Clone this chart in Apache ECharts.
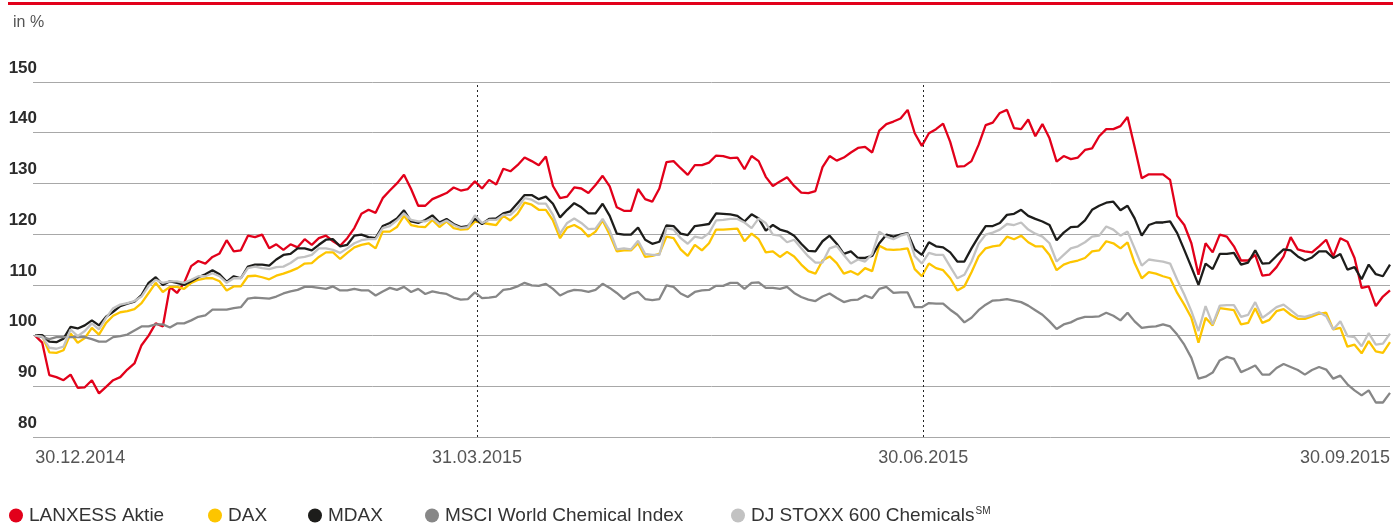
<!DOCTYPE html>
<html>
<head>
<meta charset="utf-8">
<script src="https://cdn.jsdelivr.net/npm/echarts@6/dist/echarts.min.js"></script>
<style>
  html, body { margin: 0; padding: 0; background: #fff; }
  #chart { width: 1393px; height: 525px; }
</style>
</head>
<body>
<div id="chart"></div>
<script>
// Werte in %, Startwert 30.12.2014 = 100, ein Wert je Handelstag
const lanxess = [
  100, 98.6, 92.2, 91.8, 91.2, 92.3, 89.7, 89.8, 91.2, 88.6, 89.9, 91.2, 91.8, 93.3, 94.5, 98.1, 100, 102.4, 101.8, 109.6, 108.4, 110.4, 113.7, 114.7, 114.2, 115.5, 116.2, 118.8, 116.6, 116.8, 119.7,
  119.4, 119.9, 117.2, 118, 116.9, 118, 117.4, 119, 117.9, 119.2, 119.7, 118.6, 117.7, 119.2, 121.2, 124, 124.8, 124.2, 127.1, 128.6, 130, 131.7, 128.9, 125.6, 125.6, 126.9, 127.5, 128.1, 129.2, 128.6, 128.9, 130.4,
  129, 130.7, 129.8, 132.9, 132.4, 133.6, 135.1, 134.4, 133.6, 135.3, 129.5, 127.1, 127.4, 129.2, 129, 128.1, 129.7, 131.5, 129.4, 125.3, 124.6, 124.6, 128.9, 126.9, 126.4, 129, 134.2, 134.4, 133, 131.7, 133.6, 133.6, 134.1, 135.5,
  135.4, 135, 135.1, 132.8, 135.4, 134.4, 131.3, 129.5, 130.4, 131.2, 129.5, 128.2, 128.1, 128.5, 133.2, 135.4, 134.5, 135.1, 136.1, 137, 137.2, 136.1, 140.4, 141.7, 142.2, 142.8, 144.5, 139.9, 137.4, 139.9, 140.7, 141.8,
  138.2, 133.3, 133.4, 134.4, 137.6, 141.5, 142, 143.9, 144.5, 140.9, 140.7, 142.6, 139.3, 141.7, 138.9, 134.3, 135.4, 134.8, 135.1, 136.6, 136.9, 139.3, 140.7, 140.7, 141.3, 143.1, 137.2, 131, 131.8, 131.8, 131.8,
  130.7, 123.6, 121.8, 118.2, 112, 118.2, 116.4, 119.9, 119.5, 117.6, 114.8, 114.8, 115.9, 111.8, 112, 113.5, 115.6, 119.4, 117, 116.6, 116.4, 117.6, 118.9, 115.6, 119.2, 118.5, 115.3, 109.4, 109.7, 105.8, 107.7, 108.9
]

const dax = [
  100, 99.9, 96.7, 96.6, 97.1, 100.4, 98.6, 99.5, 101.5, 100.2, 102.5, 103.9, 104.6, 104.8, 105.2, 106.4, 108.4, 110.4, 108.6, 109.6, 109.6, 109.2, 110.4, 111, 111.3, 111.3, 110.7, 108.9, 109.7, 109.7, 111.7,
  111.8, 111.5, 111.1, 111.8, 112.2, 112.7, 113.3, 114.2, 114.3, 115.5, 116.4, 116.4, 115.1, 116.3, 117.4, 117.9, 118.2, 117.2, 120.5, 120.5, 121.4, 123.6, 121.8, 121.5, 121.4, 122.8, 121.4, 122.5, 121.2, 120.9, 121, 122.5,
  122.2, 122, 121.8, 123.6, 122.7, 124, 126.2, 125.8, 124.8, 124.8, 122.7, 119.2, 121.3, 121.8, 121, 119.5, 120.5, 122.7, 119.9, 116.6, 116.8, 116.8, 118.2, 115.5, 115.7, 116.1, 119.5, 119.2, 117, 115.7, 117.9, 116.8, 118.2, 120.9,
  120.9, 121, 121.1, 118.6, 120.1, 119, 116.4, 116.6, 115.5, 116.5, 115.6, 114, 112.7, 112.2, 114.8, 115.6, 114.3, 112.2, 112.7, 112, 113.3, 112.7, 117.7, 117, 116.9, 117, 117.2, 113.1, 111.7, 114.2, 113.3, 112.9,
  111.3, 108.9, 109.7, 112.5, 115.6, 117.2, 117.6, 117.8, 119.5, 119, 119.7, 118.4, 117.6, 117.6, 115.9, 112.9, 114, 114.5, 114.8, 115.3, 116.6, 116.8, 118.6, 118.2, 117.2, 118.4, 114.3, 111.3, 112.5, 112.2, 111.7,
  111.3, 108.4, 106.1, 103.5, 98.6, 103.5, 102, 105.4, 105.2, 105, 102.2, 102.5, 105.4, 102.5, 103.1, 104.8, 105.2, 104.1, 103.3, 103.3, 103.8, 104.3, 104.5, 101.2, 101.5, 97.8, 98.2, 96.5, 98.9, 96.9, 96.6, 98.7
]

const mdax = [
  100.1, 100.1, 98.8, 98.7, 99.4, 101.7, 101.4, 102, 103, 102, 103.7, 104.7, 105.8, 106.3, 106.7, 108, 110.4, 111.5, 110, 110.7, 110.4, 110, 110.7, 111.5, 112.1, 112.9, 112.1, 110.6, 111.7, 111.3, 113.6,
  114, 114, 113.8, 115, 115.9, 116.1, 117.2, 117.2, 116.8, 117.9, 118.9, 119, 117.6, 117.9, 119.7, 119.9, 119.4, 119.2, 121.6, 122.2, 123.1, 124.7, 122.5, 122.2, 122.8, 123.7, 122.3, 123, 122, 121.4, 121.6, 123,
  122, 123, 123.1, 124.1, 124.5, 126.1, 127.7, 127.7, 126.9, 127.4, 126, 123.3, 124.8, 126.1, 125.3, 124.1, 124.1, 126, 123.6, 120.1, 119.9, 119.9, 121.3, 118.9, 118.1, 118.5, 121.7, 121.6, 120.1, 119.8, 121.6, 121.8, 122, 124.1,
  124, 123.9, 123.6, 122.5, 123.9, 123.1, 120.7, 121.8, 120.9, 120.5, 119.7, 118.1, 116.7, 116.6, 118.6, 119.7, 118.1, 116.1, 116.6, 115.3, 115.3, 115.7, 118.2, 119.9, 119.5, 119.9, 120.2, 117, 115.9, 118.4, 117.6, 117.4,
  116.4, 114.6, 114.6, 117.2, 119.5, 121.6, 121.6, 122.2, 123.8, 124, 124.8, 123.6, 123, 122.5, 121.8, 118.8, 120.3, 121.4, 121.5, 122.7, 124.8, 125.6, 126.2, 126.4, 124.7, 125.6, 123.1, 119.7, 121.8, 122.3, 122.3,
  122.5, 120.2, 116.9, 113.5, 110, 114.2, 113.1, 116.1, 116.1, 116.3, 114, 114.4, 116.8, 114.2, 114.3, 115.7, 117, 116.8, 115.6, 114.8, 115.4, 116.6, 116.6, 115.3, 116.1, 113, 113.5, 111.1, 114, 112.1, 111.7, 114
]

const msci = [
  100, 99.7, 99.3, 99.7, 99.7, 99.7, 99.7, 99.7, 99.3, 98.8, 98.8, 99.7, 99.9, 100.2, 101, 101.8, 101.8, 102.2, 102.2, 101.6, 102.4, 102.4, 103, 103.7, 104, 105.1, 105.1, 105.1, 105.4, 105.6, 107.3,
  107.5, 107.4, 107.3, 107.7, 108.3, 108.7, 109, 109.6, 109.6, 109.4, 109.2, 109.7, 108.9, 108.9, 109.2, 108.9, 108.9, 107.9, 108.7, 109.4, 109, 109.6, 108.6, 109.2, 108.2, 108.7, 108.4, 108.2, 107.5, 107.1, 107.2, 108.5,
  107.4, 107.5, 107.7, 109, 109.2, 109.7, 110.4, 109.9, 109.8, 110.2, 109.2, 107.9, 108.6, 109, 108.9, 108.6, 109, 110.2, 109.4, 108.4, 107.2, 108.2, 108.6, 107.2, 107, 107.2, 109.9, 109.6, 108.3, 107.6, 108.6, 108.9, 109, 109.8,
  109.8, 110.4, 110.4, 109.2, 110.4, 110.5, 109.4, 109.4, 109.2, 109.6, 108.4, 107.6, 107.1, 106.8, 107.7, 108.3, 107.4, 106.6, 107, 107.1, 107.9, 107.4, 109.2, 109.6, 108.4, 108.5, 108.5, 105.6, 105.6, 106.4, 106.3, 106.3,
  105.1, 104.1, 102.6, 103.5, 105, 106.1, 106.9, 107, 107.2, 106.9, 106.6, 105.9, 105, 104.1, 102.8, 101.3, 102.2, 102.6, 103.3, 103.7, 103.7, 103.8, 104.5, 103.9, 103, 104.5, 102.8, 101.5, 101.7, 101.8, 102.2,
  101.8, 100.2, 98.2, 95.6, 91.5, 91.9, 92.7, 95.1, 95.8, 95.4, 92.8, 93.4, 94.1, 92.3, 92.3, 93.6, 94.4, 93.8, 93.2, 92.3, 93.2, 93.8, 93.3, 91.5, 92.1, 90.4, 89.2, 88.2, 89.2, 86.8, 86.8, 88.7
]

const stoxx = [
  100, 99.8, 97.6, 97.4, 97.8, 101.2, 99.9, 100.9, 102.4, 101.2, 103.5, 105.4, 106.1, 106.4, 106.8, 107.7, 109.8, 111, 110.4, 110.7, 110.7, 110.4, 111, 111.7, 111.7, 112.3, 111.7, 110.4, 111.3, 111.3, 113.3,
  113.6, 113.3, 113.1, 113.5, 113.6, 114.3, 115.3, 115.5, 115.9, 117.2, 117.2, 116.9, 116.3, 117.2, 118.2, 118.8, 119, 119, 121.2, 121.6, 122.7, 124.1, 122.8, 122.5, 122.5, 123.1, 122, 122.7, 121.8, 121.2, 121.4, 123.7,
  122.2, 122.8, 122.8, 123.8, 123.8, 125.1, 127.1, 126.8, 126, 126, 123.8, 120.1, 122.2, 123.1, 122.2, 121, 121.1, 123, 120.7, 117, 117.2, 117, 118.7, 116.1, 115.9, 115.9, 121.2, 120.9, 119.2, 118.1, 119.5, 119.2, 120.2, 122.7,
  122.8, 123, 123, 122.3, 121.2, 123.1, 122.2, 119.9, 119.7, 118.4, 118.9, 117.2, 115.6, 114.4, 114.4, 117.2, 117.7, 115.9, 114.2, 115, 114.6, 116.1, 120.5, 119.5, 119, 119.7, 120.1, 115.7, 114.2, 116.3, 115.9, 115.9,
  113.6, 111.3, 112, 114.6, 118.1, 119.9, 120.3, 120.9, 122, 121.8, 122.3, 120.9, 120.1, 119.5, 118.2, 114.6, 115.9, 117.2, 117.6, 118.4, 119.5, 119.7, 121.5, 120.9, 119.7, 120.5, 117.2, 113.8, 115, 114.8, 114.6,
  114.2, 111, 108.1, 104.8, 100.9, 105.8, 102.2, 105.9, 106, 106, 103.7, 104.1, 106.6, 103.5, 104.5, 105.6, 106.1, 105, 103.9, 103.7, 104.1, 104.6, 103.8, 101.2, 102.8, 99.9, 99.7, 97.9, 100.5, 98.2, 98.4, 100.4
]

// Achsenbeschriftung: Handelstag-Index -> Datum
const tickDays = [0, 62.3, 125.2, 191]
const tickLabels = ['30.12.2014', '31.03.2015', '30.06.2015', '30.09.2015']
const quarterEnds = [62.3, 125.2]

const names = ['LANXESS Aktie', 'DAX', 'MDAX', 'MSCI World Chemical Index', 'DJ STOXX 600 Chemicals']
const colors = ['#e2001a', '#fdc500', '#1d1d1b', '#878787', '#c2c2c2']
const legendLeft = [9, 208, 308, 425, 731]

const toPoints = arr => arr.map((v, i) => [i, v])

const chart = echarts.init(document.getElementById('chart'))

function line(idx, values) {
  return {
    name: names[idx],
    type: 'line',
    data: toPoints(values),
    symbol: 'none',
    color: colors[idx],
    lineStyle: { width: 2.3, color: colors[idx] },
    z: 2 + idx,
  }
}

const series = [
  line(4, stoxx),
  line(3, msci),
  line(1, dax),
  line(2, mdax),
  line(0, lanxess),
]
// gestrichelte Quartalslinien
series[0].markLine = {
  silent: true,
  symbol: ['none', 'none'],
  label: { show: false },
  lineStyle: { type: [2, 3], color: '#222', width: 1 },
  data: quarterEnds.map(d => ({ xAxis: d })),
}

chart.setOption({
  animation: false,
  textStyle: { fontFamily: 'Liberation Sans, Arial, sans-serif' },
  grid: { left: 33, right: 1, top: 82, bottom: 88 },
  graphic: [
    { type: 'rect', left: 8, top: 2, shape: { width: 1385, height: 3 }, style: { fill: '#e2001a' } },
    { type: 'text', left: 13, top: 15, style: { text: 'in %', fontSize: 16, fill: '#555', fontFamily: 'Liberation Sans, Arial, sans-serif' } },
  ],
  legend: names.map((n, i) => ({
    left: legendLeft[i],
    top: 506,
    padding: 0,
    data: [n],
    icon: 'circle',
    itemWidth: 14,
    itemHeight: 14,
    selectedMode: false,
    formatter: name => name === 'DJ STOXX 600 Chemicals' ? '{a|' + name + '}{s|SM}' : name,
    textStyle: {
      fontSize: 19,
      color: '#333',
      padding: [0, 0, 0, 1],
      rich: {
        a: { fontSize: 19, color: '#333' },
        s: { fontSize: 10, color: '#333', verticalAlign: 'top', padding: [0, 0, 9, 1] },
      },
    },
  })),
  xAxis: {
    type: 'value',
    min: -0.3,
    max: 191,
    splitLine: { show: false },
    axisLine: { show: false },
    axisTick: { show: false },
    axisLabel: {
      customValues: tickDays,
      formatter: v => {
        let best = 0
        tickDays.forEach((d, i) => { if (Math.abs(d - v) < Math.abs(tickDays[best] - v)) best = i })
        return tickLabels[best]
      },
      alignMinLabel: 'left',
      alignMaxLabel: 'right',
      fontSize: 18,
      color: '#555',
      margin: 12,
    },
  },
  yAxis: {
    type: 'value',
    min: 80,
    max: 150,
    interval: 10,
    axisLine: { show: false },
    axisTick: { show: false },
    splitLine: { lineStyle: { color: '#a8a8a8', width: 1 } },
    axisLabel: {
      fontSize: 17,
      fontWeight: 'bold',
      color: '#2b2b2b',
      align: 'right',
      verticalAlign: 'bottom',
      margin: -4,
      lineHeight: 18,
      padding: [0, 0, 5, 0],
    },
  },
  series,
})
</script>
</body>
</html>
